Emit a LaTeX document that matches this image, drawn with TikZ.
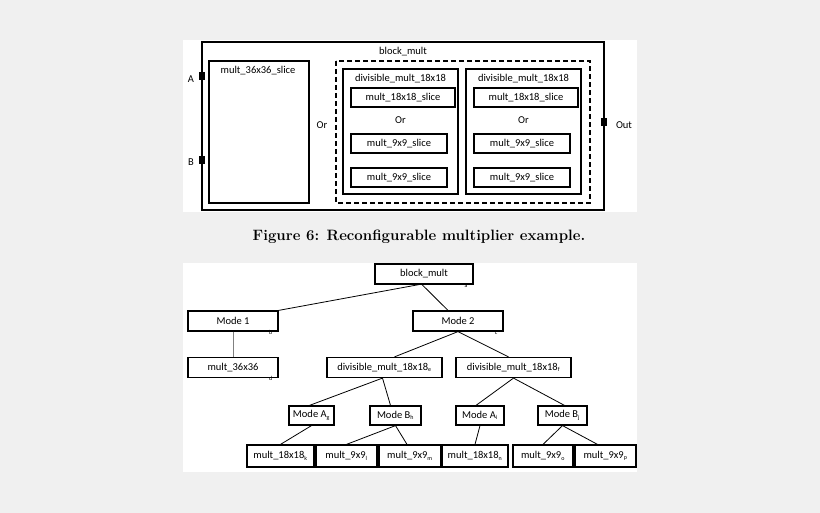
\documentclass[tikz,border=0pt]{standalone}
\usepackage{fontspec}
\newfontfamily\lab{Carlito}
\newcommand\sbx[1]{\textsubscript{\fontsize{6}{6}\selectfont #1}}
\begin{document}
\begin{tikzpicture}[x=1pt,y=-1pt,
  bx/.style={draw,line width=1.2pt,inner sep=0pt,font=\lab\fontsize{10.5}{11}\selectfont},
  tx/.style={font=\lab\fontsize{10.5}{11}\selectfont,inner sep=0pt},
  port/.style={fill=black,minimum width=6pt,minimum height=8pt,inner sep=0pt},
  ed/.style={line width=0.8pt}]
\useasboundingbox (0,0) rectangle (820,513);
\fill[white!94!black] (0,0) rectangle (820,513);
\fill[white] (183,40) rectangle (637,212);
\fill[white] (183,263) rectangle (637,472);
% top figure
\draw[line width=1.2pt] (202,42) rectangle (604,210);
\node[tx] (bm) at (403,52) {block\_mult};
\draw[line width=1.2pt] (209,61) rectangle (309,203);
\node[tx] (m36) at (258,71) {mult\_36x36\_slice};
\node[port] (pa) at (202,76) {}; \node[tx] (la) at (191,79) {A};
\node[port] (pb) at (202,160) {}; \node[tx] (lb) at (191,162) {B};
\node[port] (po) at (604,122) {}; \node[tx] (lo) at (624,125) {Out};
\node[tx] (or0) at (322,125) {Or};
\draw[line width=1.2pt,dash pattern=on 5pt off 3pt] (336,61) rectangle (590,203);
\foreach \x/\n in {343/l,466/r}{
  \draw[line width=1.2pt] (\x,69) rectangle (\x+115,194);
  \node[tx] (dv\n) at (\x+57.5,79) {divisible\_mult\_18x18};
  \node[bx,minimum width=104pt,minimum height=19pt] (s1\n) at (\x+60,97.5) {mult\_18x18\_slice};
  \node[tx] (or\n) at (\x+57.5,120) {Or};
  \node[bx,minimum width=96pt,minimum height=19pt] (s2\n) at (\x+56,143.5) {mult\_9x9\_slice};
  \node[bx,minimum width=96pt,minimum height=19pt] (s3\n) at (\x+56,177.5) {mult\_9x9\_slice};
}
\node[font=\bfseries\fontsize{15}{17}\selectfont] (cap) at (419,237) {Figure 6: Reconfigurable multiplier example.};
% bottom tree
\tikzset{tn/.style={bx,minimum height=20pt}}
\node[tn,minimum width=98pt] (a) at (424,274) {block\_mult};
\node[tn,minimum width=90pt] (b) at (233,321) {Mode 1};
\node[tn,minimum width=90pt] (c) at (458,321) {Mode 2};
\node[tn,minimum width=90pt] (d) at (233,367.5) {mult\_36x36};
\node[tn,minimum width=115pt] (e) at (384.5,367.5) {divisible\_mult\_18x18\sbx{e}};
\node[tn,minimum width=115pt] (f) at (513.5,367.5) {divisible\_mult\_18x18\sbx{f}};
\foreach \n/\l in {a/a,b/b,c/c,d/d}{\node[tx,font=\lab\fontsize{6}{6}\selectfont,anchor=south east] at ([xshift=-6pt,yshift=-3pt]\n.south east) {\l};}
\node[tn,minimum width=45pt,minimum height=19pt] (g) at (311.5,415.5) {Mode A\sbx{g}};
\node[tn,minimum width=51pt,minimum height=19pt] (h) at (395.5,415.5) {Mode B\sbx{h}};
\node[tn,minimum width=48pt,minimum height=19pt] (i) at (480,415.5) {Mode A\sbx{i}};
\node[tn,minimum width=49pt,minimum height=19pt] (j) at (562.5,415.5) {Mode B\sbx{j}};
\node[tn,minimum width=67pt,minimum height=22pt] (k) at (280.5,456) {mult\_18x18\sbx{k}};
\node[tn,minimum width=61pt,minimum height=22pt] (l) at (346.5,456) {mult\_9x9\sbx{l}};
\node[tn,minimum width=62pt,minimum height=22pt] (m) at (410,456) {mult\_9x9\sbx{m}};
\node[tn,minimum width=66pt,minimum height=22pt] (n) at (475,456) {mult\_18x18\sbx{n}};
\node[tn,minimum width=60pt,minimum height=22pt] (o) at (543,456) {mult\_9x9\sbx{o}};
\node[tn,minimum width=61pt,minimum height=22pt] (p) at (605.5,456) {mult\_9x9\sbx{p}};
\draw[ed] ([xshift=-5pt]a.south) -- (b.north east);
\draw[ed] ([xshift=-2pt]a.south) -- ([xshift=-10pt]c.north);
\draw[ed,gray] (b) -- (d);
\draw[ed] (c.south) -- ([xshift=10pt]e.north);
\draw[ed] (c.south) -- ([xshift=-5pt]f.north);
\draw[ed] ([xshift=-2pt]e.south) -- ([xshift=-2pt]g.north);
\draw[ed] ([xshift=-2pt]e.south) -- ([xshift=-5pt]h.north);
\draw[ed] (f.south) -- ([xshift=-4pt]i.north);
\draw[ed] (f.south) -- ([xshift=2pt]j.north);
\draw[ed] (g.south) -- (k.north);
\draw[ed] (h.south) -- (l.north);
\draw[ed] (h.south) -- ([xshift=-3pt]m.north);
\draw[ed] (i.south) -- (n.north);
\draw[ed] (j.south) -- (o.north);
\draw[ed] (j.south) -- ([xshift=-8pt]p.north);
\end{tikzpicture}
\end{document}
